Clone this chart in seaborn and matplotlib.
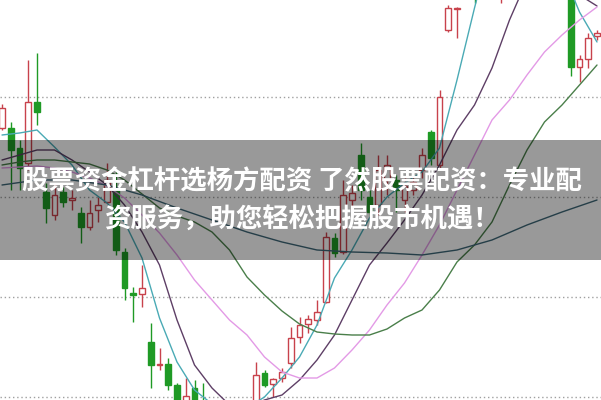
import matplotlib
matplotlib.use('Agg')
import matplotlib.pyplot as plt
import pandas as pd
import seaborn as sns

# K线数据 (开, 收, 高, 低)
opens = [11.69, 11.69, 11.49, 11.34, 11.95, 11.05, 10.82, 11.05, 10.97, 10.84,
         10.70, 10.87, 10.95, 11.07, 10.45, 10.04, 10.03, 9.55, 9.32, 9.33,
         9.12, 8.95, 9.09, 8.95, 8.87, 8.72, 8.59, 8.69, 8.57, 8.92,
         9.24, 9.13, 9.19, 9.34, 9.60, 9.73, 9.77, 9.95, 10.59, 10.45,
         10.97, 11.42, 11.00, 10.92, 11.17, 11.17, 10.97, 11.07, 11.27, 11.65,
         11.32, 12.67, 12.88, 13.07, 13.47, 13.37, 13.87, 13.27, 13.67, 14.17,
         13.87, 14.37, 14.57, 14.17, 13.77, 13.37, 12.30, 12.38, 12.61]
closes = [11.89, 11.47, 11.29, 11.95, 11.85, 10.89, 11.02, 10.95, 10.99, 10.70,
          10.84, 10.92, 11.17, 10.47, 10.09, 10.02, 10.09, 9.32, 9.33, 9.12,
          8.92, 9.01, 8.92, 8.82, 8.72, 8.65, 8.69, 8.57, 8.77, 9.22,
          9.12, 9.18, 9.25, 9.59, 9.72, 9.78, 9.85, 10.60, 10.44, 11.02,
          11.04, 11.07, 10.85, 11.27, 11.32, 11.07, 11.11, 11.15, 11.42, 11.39,
          12.00, 12.89, 12.89, 13.57, 13.07, 13.87, 13.47, 13.67, 14.17, 13.87,
          14.37, 14.57, 14.17, 13.77, 13.87, 12.30, 12.38, 12.59, 12.64]
highs = [11.93, 11.75, 11.57, 12.37, 12.44, 11.14, 11.14, 11.10, 11.07, 10.90,
         10.97, 11.00, 11.34, 11.27, 10.49, 10.10, 10.32, 9.74, 9.49, 9.39,
         9.14, 9.19, 9.17, 9.14, 8.92, 8.82, 8.77, 8.79, 8.85, 9.35,
         9.27, 9.19, 9.29, 9.70, 9.80, 9.82, 9.97, 10.65, 10.64, 11.17,
         11.12, 11.54, 11.07, 11.42, 11.42, 11.22, 11.19, 11.21, 11.49, 11.67,
         12.07, 12.92, 12.90, 13.67, 13.52, 13.97, 13.92, 13.77, 14.27, 14.27,
         14.47, 14.67, 14.67, 14.27, 14.07, 13.47, 12.42, 12.64, 12.67]
lows = [11.67, 11.07, 11.07, 11.27, 11.72, 10.74, 10.77, 10.90, 10.87, 10.54,
        10.67, 10.75, 10.94, 10.42, 9.97, 9.75, 9.90, 9.09, 9.27, 9.07,
        8.82, 8.87, 8.87, 8.77, 8.65, 8.57, 8.55, 8.52, 8.52, 8.87,
        9.10, 9.00, 9.15, 9.29, 9.54, 9.64, 9.72, 9.94, 10.40, 10.43,
        10.82, 10.97, 10.72, 10.82, 11.02, 10.85, 10.85, 11.02, 11.19, 11.32,
        11.27, 12.65, 12.59, 13.02, 12.94, 13.27, 13.17, 12.94, 13.57, 13.77,
        13.82, 14.17, 13.97, 13.57, 13.47, 12.21, 12.15, 12.29, 12.57]

# 均线 (每两根K线取一点)
ma_idx = list(range(0, 69, 2))
ma5 = [11.62, 11.64, 11.67, 11.50, 11.32, 11.07, 10.94, 10.75, 10.39, 9.79,
       9.35, 9.07, 8.93, 8.87, 8.89, 9.00, 9.19, 9.40, 9.72, 10.19,
       10.47, 10.79, 11.00, 11.14, 11.25, 11.49, 12.17, 12.89, 13.57, 13.97,
       14.17, 13.97, 13.27, 12.85, 12.55]
ma10 = [11.37, 11.42, 11.47, 11.47, 11.37, 11.25, 11.12, 10.92, 10.65, 10.32,
        9.77, 9.32, 9.09, 8.92, 8.89, 8.97, 9.02, 9.17, 9.37, 9.62,
        9.97, 10.32, 10.54, 10.77, 11.02, 11.32, 11.67, 11.92, 12.29, 12.77,
        13.17, 13.37, 13.27, 13.02, 12.91]
ma20 = [11.29, 11.30, 11.31, 11.29, 11.25, 11.19, 11.11, 10.99, 10.82, 10.64,
        10.42, 10.17, 9.97, 9.77, 9.62, 9.40, 9.25, 9.19, 9.19, 9.29,
        9.47, 9.67, 9.92, 10.14, 10.42, 10.72, 11.07, 11.42, 11.77, 11.97,
        12.22, 12.45, 12.62, 12.77, 12.90]
ma30 = [11.32, 11.35, 11.37, 11.37, 11.35, 11.33, 11.27, 11.17, 11.03, 10.89,
        10.81, 10.75, 10.65, 10.47, 10.20, 10.02, 9.86, 9.73, 9.65, 9.63,
        9.62, 9.62, 9.68, 9.79, 9.87, 10.07, 10.35, 10.52, 10.75, 11.12,
        11.47, 11.75, 11.92, 12.12, 12.32]
ma60_idx = list(range(0, 69, 4))
ma60 = [11.12, 11.17, 11.17, 11.12, 11.02, 10.89, 10.77, 10.65, 10.55, 10.47,
        10.45, 10.44, 10.42, 10.47, 10.57, 10.72, 10.85, 10.97]

grid_levels = [12.0, 11.0, 10.0, 9.0]
title_lines = ['股票资金杠杆选杨方配资 了然股票配资：专业配',
               '资服务，助您轻松把握股市机遇！']

sns.set_style('white')
plt.rcParams['font.family'] = ['Noto Sans CJK SC', 'DejaVu Sans']

fig = plt.figure(figsize=(6.01, 4.0), dpi=100)
ax = fig.add_axes([0, 0, 1, 1])

for g in grid_levels:
    ax.axhline(g, color='#a0a0a0', linestyle=(0, (1, 2)), linewidth=1, zorder=1)

up_col = '#c8424c'
dn_col = '#1f9a25'
for i in range(len(opens)):
    o, c = opens[i], closes[i]
    col = up_col if c >= o else dn_col
    ax.vlines(i, lows[i], highs[i], color=col, linewidth=1, zorder=2)
    h = max(abs(c - o), 0.015)
    ax.bar(i, h, bottom=min(o, c), width=0.68,
           color='white' if c >= o else dn_col, edgecolor=col,
           linewidth=1, zorder=3)

ma = pd.DataFrame({'idx': ma_idx, 'MA5': ma5, 'MA10': ma10,
                   'MA20': ma20, 'MA30': ma30})
colors = {'MA5': '#4aaab5', 'MA10': '#5e3f66', 'MA20': '#e39ae6',
          'MA30': '#4a7f4a'}
for k, col in colors.items():
    sns.lineplot(data=ma, x='idx', y=k, ax=ax, color=col, linewidth=1,
                 estimator=None, sort=False, zorder=4)
sns.lineplot(x=ma60_idx, y=ma60, ax=ax, color='#3e6878', linewidth=1,
             estimator=None, sort=False, zorder=4)

ax.set_xlim(-2 / 8.75, 599 / 8.75)
ax.set_ylim(8.97, 12.97)
ax.axis('off')

# 半透明横幅
ax.axhspan(10.37, 11.57, color='black', alpha=0.4, linewidth=0, zorder=5)
fig.text(0.502, 0.545, title_lines[0], ha='center', va='center', color='white',
         fontsize=19, fontweight='bold', zorder=6)
fig.text(0.502, 0.45, title_lines[1], ha='center', va='center', color='white',
         fontsize=19, fontweight='bold', zorder=6)

fig.savefig('out.png', dpi=100)
